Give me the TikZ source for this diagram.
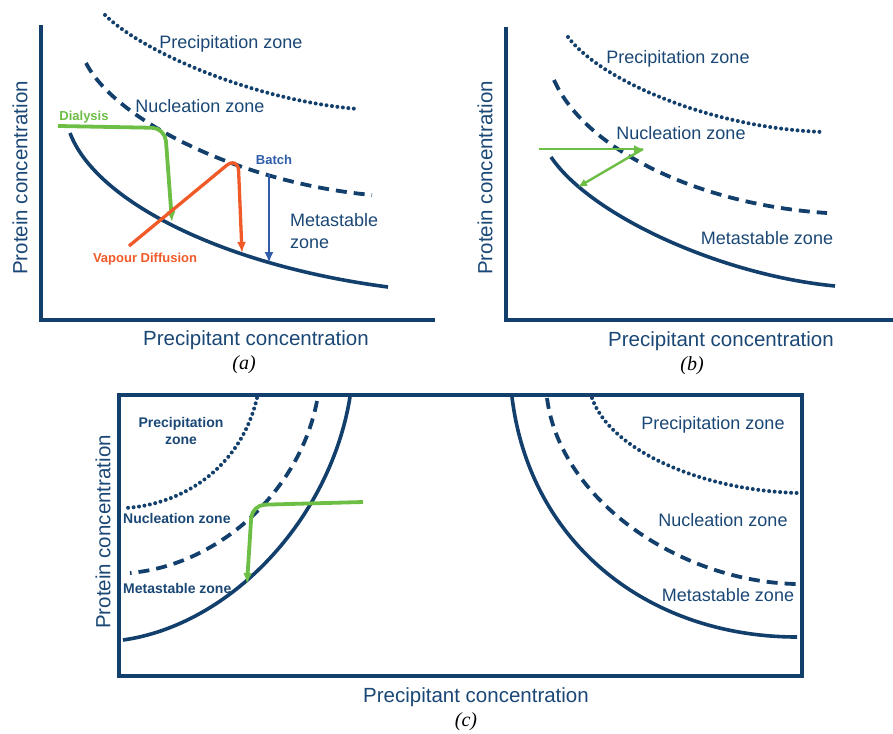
\documentclass[tikz,border=0pt]{standalone}
\usepackage{fontspec}
\setmainfont{Liberation Sans}
\newfontfamily\capfont{Liberation Serif}
\usetikzlibrary{arrows.meta}
\definecolor{navy}{HTML}{123F6B}
\definecolor{navytext}{HTML}{1A4775}
\definecolor{grn}{HTML}{6DBE45}
\definecolor{rd}{HTML}{F05A28}
\definecolor{blu}{HTML}{2F5DAA}
\tikzset{
  axisline/.style={navy, line width=4pt},
  solidcurve/.style={navy, line width=3.6pt},
  dashcurve/.style={navy, line width=3.8pt, dash pattern=on 11pt off 7pt},
  dotcurve/.style={navy, line width=4pt, dash pattern=on 0pt off 5.5pt, line cap=round},
  axislabel/.style={navytext, font=\fontsize{20.5}{24}\selectfont, inner sep=0pt},
  zonelabel/.style={navytext, font=\fontsize{18}{22}\selectfont, inner sep=0pt},
  boldzone/.style={navytext, font=\fontsize{14}{17}\selectfont\bfseries, inner sep=0pt},
  methodlabel/.style={font=\fontsize{13}{15}\selectfont\bfseries, inner sep=0pt},
  caplabel/.style={black, font=\capfont\itshape\fontsize{20}{23}\selectfont, inner sep=0pt},
  tip/.style={-{Latex[length=11pt,width=9pt]}},
  smalltip/.style={-{Latex[length=9pt,width=8pt]}}
}
\begin{document}
\begin{tikzpicture}[x=1pt,y=-1pt]
\useasboundingbox (0,0) rectangle (893,733);
% ---------------- panel (a) ----------------
\coordinate (aTop) at (41,25);
\coordinate (aO) at (41,320);
\coordinate (aR) at (435,320);
\draw[axisline] (aTop) -- (aO) -- (aR);
\draw[dotcurve] (105,15) .. controls (140,50) and (250,100) .. (358,109);
\draw[dashcurve] (86,63) .. controls (115,120) and (240,183) .. (372,195);
\draw[solidcurve] (70,133) .. controls (95,200) and (220,265) .. (388,287);
\node[axislabel, rotate=90] (aY) at (20,178) {Protein concentration};
\node[axislabel] (aX) at (256,340) {Precipitant concentration};
\node[caplabel] (aCap) at (244,365) {(a)};
\node[zonelabel] (aPrec) at (231,44) {Precipitation zone};
\node[zonelabel] (aNuc) at (200,106) {Nucleation zone};
\node[zonelabel, anchor=west, align=left] (aMeta) at (290,231) {Metastable\\zone};
\node[methodlabel, grn] (aDial) at (84,117) {Dialysis};
\node[methodlabel, blu] (aBatch) at (274,160) {Batch};
\node[methodlabel, rd] (aVap) at (145,259) {Vapour Diffusion};
\coordinate (d1) at (58,126);
\coordinate (d2) at (165,128);
\coordinate (d3) at (172,222);
\draw[grn, line width=3.8pt, rounded corners=13pt, tip] (d1) -- (d2) -- (d3);
\coordinate (v1) at (129,246);
\coordinate (v2) at (238,156);
\coordinate (v3) at (242,253);
\draw[rd, line width=3.3pt, rounded corners=15pt, tip] (v1) -- (v2) -- (v3);
\coordinate (b1) at (269,174);
\coordinate (b2) at (269,263);
\draw[blu, line width=2.8pt, tip] (b1) -- (b2);
% ---------------- panel (b) ----------------
\coordinate (bTop) at (506,27);
\coordinate (bO) at (506,320);
\coordinate (bR) at (893,320);
\draw[axisline] (bTop) -- (bO) -- (bR);
\draw[dotcurve] (568,37) .. controls (600,80) and (710,128) .. (823,132);
\draw[dashcurve] (554,80) .. controls (585,150) and (700,205) .. (827,213);
\draw[solidcurve] (551,157) .. controls (590,215) and (720,275) .. (835,286);
\node[axislabel, rotate=90] (bY) at (485,178) {Protein concentration};
\node[axislabel] (bX) at (721,341) {Precipitant concentration};
\node[caplabel] (bCap) at (692,366) {(b)};
\node[zonelabel] (bPrec) at (678,59) {Precipitation zone};
\node[zonelabel] (bNuc) at (681,133) {Nucleation zone};
\node[zonelabel] (bMeta) at (767,238) {Metastable zone};
\coordinate (g1) at (539,149);
\coordinate (g2) at (643,149);
\coordinate (g3) at (578,187);
\draw[grn, line width=2.4pt, smalltip] (g1) -- (g2);
\draw[grn, line width=2.4pt, smalltip] (g2) -- (g3);
% ---------------- panel (c) ----------------
\coordinate (cTL) at (119,395);
\coordinate (cBR) at (802,676);
\draw[axisline] (cTL) rectangle (cBR);
% left group
\draw[solidcurve] (350,397) .. controls (330,520) and (230,625) .. (123,640);
\draw[dashcurve] (317,401) .. controls (300,490) and (220,565) .. (130,573);
\draw[dotcurve] (257,398) .. controls (240,470) and (180,505) .. (125,508);
\node[boldzone, align=center] (cPrecL) at (181,431) {Precipitation\\zone};
\node[boldzone, anchor=west] (cNucL) at (123,518) {Nucleation zone};
\node[boldzone, anchor=west] (cMetaL) at (123,588) {Metastable zone};
\coordinate (h1) at (363,502);
\coordinate (h2) at (252,505);
\coordinate (h3) at (247,584);
\draw[grn, line width=3.8pt, rounded corners=13pt, tip] (h1) -- (h2) -- (h3);
% right group
\draw[solidcurve] (512,397) .. controls (530,545) and (650,637) .. (797,637);
\draw[dashcurve] (547,398) .. controls (560,500) and (680,582) .. (797,584);
\draw[dotcurve] (592,398) .. controls (610,450) and (700,490) .. (797,493);
\node[zonelabel] (cPrecR) at (713,425) {Precipitation zone};
\node[zonelabel] (cNucR) at (723,520) {Nucleation zone};
\node[zonelabel] (cMetaR) at (728,595) {Metastable zone};
\node[axislabel, rotate=90] (cY) at (103,532) {Protein concentration};
\node[axislabel] (cX) at (476,697) {Precipitant concentration};
\node[caplabel] (cCap) at (466,722) {(c)};
\end{tikzpicture}
\end{document}
